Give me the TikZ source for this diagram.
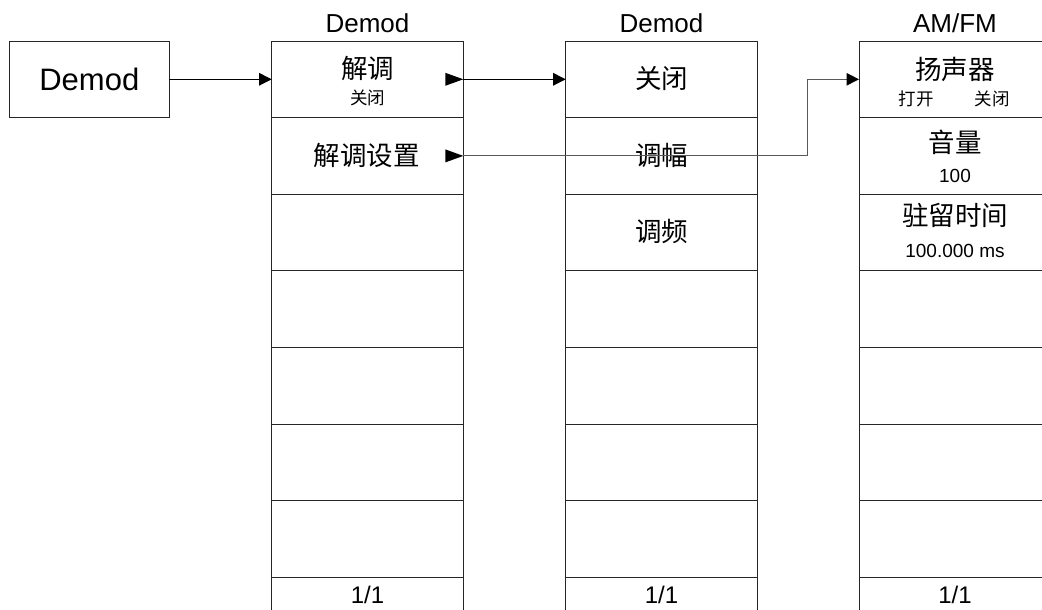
\documentclass[tikz,border=0pt]{standalone}
\usepackage{fontspec}
\setmainfont{Liberation Sans}
\newfontfamily\cjk{Noto Sans CJK SC}
\usetikzlibrary{arrows.meta}
\begin{document}
\begin{tikzpicture}[x=1pt,y=-1pt,
  cell/.style={draw=black!85, line width=0.9pt, minimum width=191.6pt, minimum height=76.6pt, inner sep=0pt, outer sep=0pt, anchor=north west},
  srcbox/.style={draw=black!85, line width=0.9pt, minimum width=160pt, minimum height=76pt, inner sep=0pt, outer sep=0pt, anchor=north west, font=\fontsize{31}{36}\selectfont},
  head/.style={anchor=base, inner sep=0pt, font=\fontsize{26}{30}\selectfont},
  pagelbl/.style={anchor=base, inner sep=0pt, font=\fontsize{24}{28}\selectfont},
  val/.style={anchor=base, inner sep=0pt, font=\fontsize{19}{22}\selectfont},
  big/.style={anchor=center, inner sep=0pt, font=\cjk\fontsize{26.5}{30}\selectfont},
  small/.style={anchor=center, inner sep=0pt, font=\cjk\fontsize{17.5}{20}\selectfont},
  conn/.style={draw=black, line width=0.9pt, -{Triangle[length=12.5pt,width=12.5pt]}},
  conngray/.style={draw=black!65, line width=1pt, -{Triangle[length=12.5pt,width=12.5pt,color=black,fill=black]}},
  marker/.style={fill=black}
]
\useasboundingbox (0,0) rectangle (1042,610);
\clip (0,0) rectangle (1042,610);

% source box
\node[srcbox] (dm) at (9.3,41.3) {Demod};

% columns of cells
\foreach \c/\x in {1/271.7,2/565.7,3/859}{
  \foreach \r in {1,...,8}{
    \node[cell] (c\c r\r) at (\x,{41+76.6*(\r-1)}) {};
  }
}

% headers
\node[head] (h1) at (367.5,33) {Demod};
\node[head] (h2) at (661.5,33) {Demod};
\node[head] (h3) at (955,33) {AM/FM};

% column 1 texts
\node[big] (t11) at (367.5,68.3) {解调};
\node[small] (t11s) at (367.5,98) {关闭};
\node[big] (t12) at (366.5,155.5) {解调设置};

% column 2 texts
\node[big] (t21) at (661.5,78.7) {关闭};
\node[big] (t22) at (661.5,155.3) {调幅};
\node[big] (t23) at (661.5,231.7) {调频};

% column 3 texts
\node[big] (t31) at (955,69.7) {扬声器};
\node[small] (t31a) at (916,98.8) {打开};
\node[small] (t31b) at (992,98.8) {关闭};
\node[big] (t32) at (955,142.5) {音量};
\node[val] (t32v) at (955,182.7) {100};
\node[big] (t33) at (955,215.5) {驻留时间};
\node[val] (t33v) at (955,257.3) {100.000 ms};

% page labels
\node[pagelbl] (p1) at (367.5,603.3) {1/1};
\node[pagelbl] (p2) at (661.5,603.3) {1/1};
\node[pagelbl] (p3) at (955,603.3) {1/1};

% markers (submenu triangles)
\fill[marker] ([xshift=-18pt,yshift=6.5pt]c1r1.east) -- (c1r1.east) -- ([xshift=-18pt,yshift=-6.5pt]c1r1.east) -- cycle;
\fill[marker] ([xshift=-18pt,yshift=6.5pt]c1r2.east) -- (c1r2.east) -- ([xshift=-18pt,yshift=-6.5pt]c1r2.east) -- cycle;

% connectors
\coordinate (bend) at (807.5,0);
\draw[conn] (dm.east) -- (c1r1.west);
\draw[conn] (c1r1.east) -- (c2r1.west);
\draw[conngray] (c1r2.east) -- (c1r2.east -| bend) |- (c3r1.west);
\end{tikzpicture}
\end{document}
